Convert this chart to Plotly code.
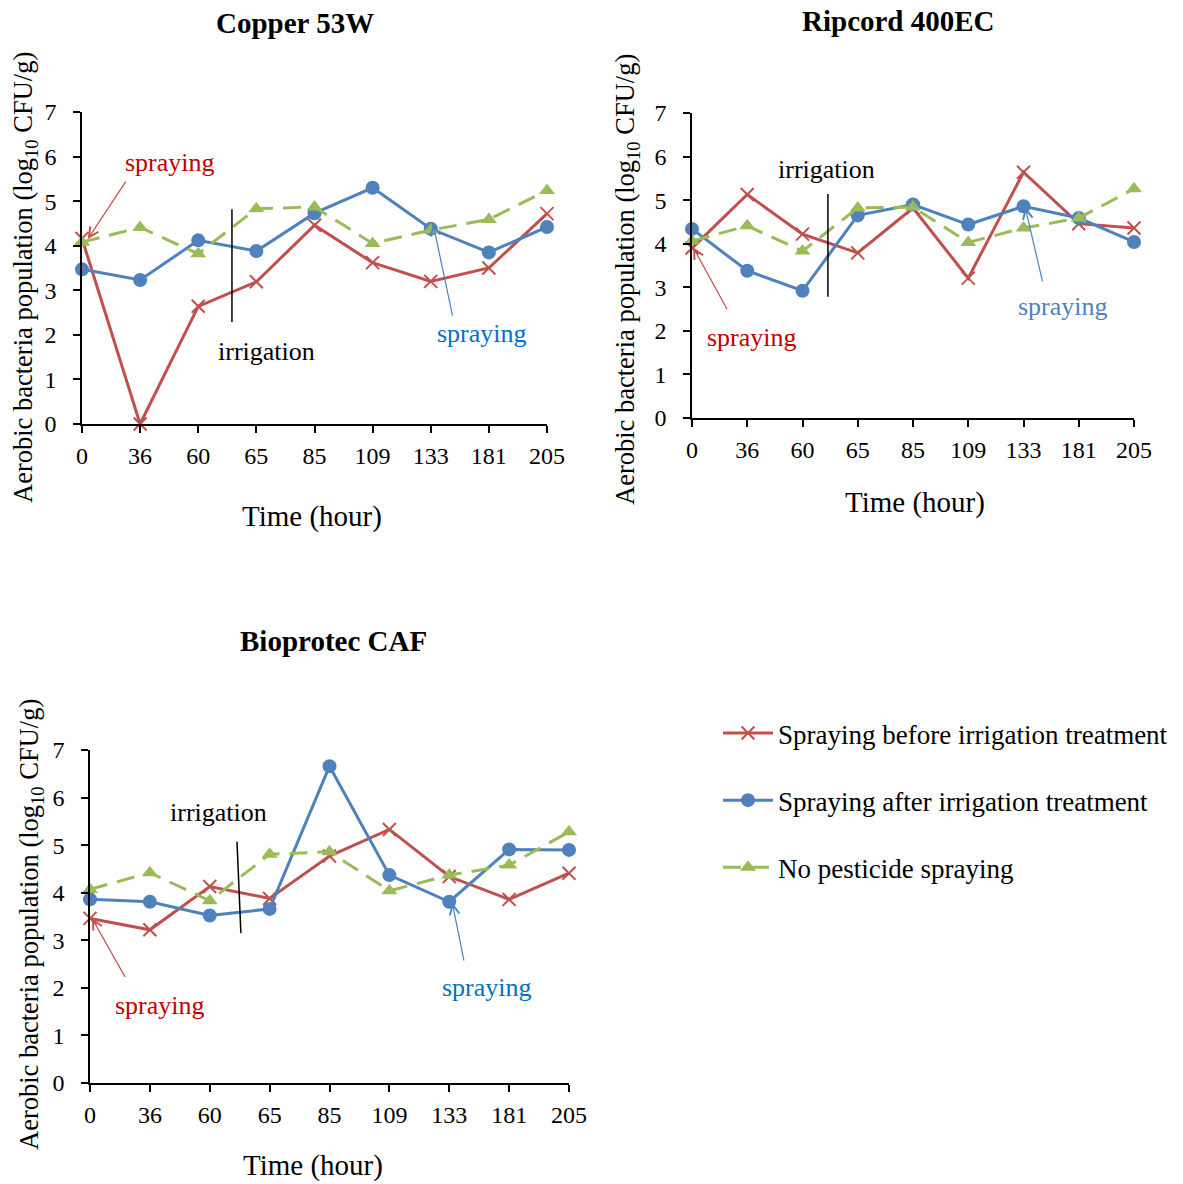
import plotly.graph_objects as go

# ---------------- data ----------------
time_labels = ["0", "36", "60", "65", "85", "109", "133", "181", "205"]

copper_before = [4.16, 0.00, 2.64, 3.19, 4.46, 3.62, 3.20, 3.50, 4.72]
copper_after = [3.47, 3.23, 4.12, 3.88, 4.73, 5.30, 4.38, 3.85, 4.42]
copper_none = [4.08, 4.41, 3.82, 4.83, 4.87, 4.05, 4.35, 4.59, 5.24]

ripcord_before = [3.90, 5.13, 4.22, 3.79, 4.82, 3.21, 5.64, 4.46, 4.36]
ripcord_after = [4.34, 3.38, 2.92, 4.65, 4.90, 4.44, 4.86, 4.59, 4.04]
ripcord_none = [4.06, 4.41, 3.83, 4.82, 4.84, 4.03, 4.36, 4.59, 5.26]

bio_before = [3.46, 3.22, 4.13, 3.88, 4.77, 5.33, 4.34, 3.86, 4.41]
bio_after = [3.86, 3.81, 3.52, 3.66, 6.66, 4.37, 3.81, 4.91, 4.90]
bio_none = [4.07, 4.42, 3.83, 4.81, 4.86, 4.04, 4.37, 4.58, 5.28]

series_names = ["Spraying before irrigation treatment",
                "Spraying after irrigation treatment",
                "No pesticide spraying"]
panel_titles = ["Copper 53W", "Ripcord 400EC", "Bioprotec CAF"]
x_title = "Time (hour)"
y_title = "Aerobic bacteria population (log<sub>10</sub> CFU/g)"

# ---------------- layout helpers ----------------
W, H = 1183, 1184
OFF = 8  # page body margin in the browser
FONT = "Liberation Serif, Times New Roman, serif"
RED, BLUE, GREEN = "#C0504D", "#4F81BD", "#9BBB59"


def px(x):
    return (x - OFF) / W


def py(y):
    return 1 - (y - OFF) / H


idx = list(range(len(time_labels)))
panels = [
    (copper_before, copper_after, copper_none),
    (ripcord_before, ripcord_after, ripcord_none),
    (bio_before, bio_after, bio_none),
]
# plot-area pixel boxes (left, right, top, bottom)
boxes = [(82, 547, 112, 424), (692, 1134, 113, 418), (90, 569, 750, 1083)]

fig = go.Figure()
for k, (before, after, none) in enumerate(panels):
    xa = "x" if k == 0 else f"x{k+1}"
    ya = "y" if k == 0 else f"y{k+1}"
    show = k == 0
    fig.add_trace(go.Scatter(
        x=idx, y=before, name=series_names[0], xaxis=xa, yaxis=ya,
        mode="lines+markers", legendgroup="a", showlegend=show, cliponaxis=False,
        line=dict(color=RED, width=3),
        marker=dict(symbol="x-thin", size=13, line=dict(color=RED, width=2), color=RED)))
    fig.add_trace(go.Scatter(
        x=idx, y=after, name=series_names[1], xaxis=xa, yaxis=ya,
        mode="lines+markers", legendgroup="b", showlegend=show, cliponaxis=False,
        line=dict(color=BLUE, width=3),
        marker=dict(symbol="circle", size=14, color=BLUE)))
    fig.add_trace(go.Scatter(
        x=idx, y=none, name=series_names[2], xaxis=xa, yaxis=ya,
        mode="lines+markers", legendgroup="c", showlegend=show, cliponaxis=False,
        line=dict(color=GREEN, width=3, dash="18px,10px"),
        marker=dict(symbol="triangle-up", size=14, color=GREEN)))

axis_common = dict(showline=True, linecolor="black", linewidth=1.5,
                   ticks="outside", ticklen=7, tickcolor="black", tickwidth=1.5,
                   showgrid=False, zeroline=False, automargin=False,
                   tickfont=dict(family=FONT, size=24, color="black"))
layout_axes = {}
for k, (l, r, t, b) in enumerate(boxes):
    sx = "xaxis" if k == 0 else f"xaxis{k+1}"
    sy = "yaxis" if k == 0 else f"yaxis{k+1}"
    ya = "y" if k == 0 else f"y{k+1}"
    xa = "x" if k == 0 else f"x{k+1}"
    layout_axes[sx] = dict(axis_common, domain=[px(l), px(r)], anchor=ya,
                           range=[0, len(time_labels) - 1],
                           tickvals=idx, ticktext=time_labels, ticklabelstandoff=2)
    layout_axes[sy] = dict(axis_common, domain=[py(b), py(t)], anchor=xa,
                           range=[0, 7], dtick=1, tick0=0, ticklabelstandoff=12)

fig.update_layout(**layout_axes)

ann = []


def free_text(text, x, y, size, angle=0):
    return dict(text=text, x=px(x), y=py(y), xref="paper", yref="paper",
                xanchor="center", yanchor="middle", textangle=angle,
                showarrow=False, font=dict(family=FONT, size=size, color="black"))


# panel titles
for (txt, x, y) in zip(panel_titles, [295, 898, 333], [23, 21, 641]):
    ann.append(free_text(f"<b>{txt}</b>", x, y, 29))
# axis titles
for (x, y) in [(312, 516), (915, 502), (313, 1165)]:
    ann.append(free_text(x_title, x, y, 29))
for (x, y) in [(25, 278), (627, 280), (31, 925)]:
    ann.append(free_text(y_title, x, y, 26.5, angle=-90))

TXT_RED, TXT_BLUE = "#C00000", "#0070C0"


def label(xr, yr, x, y, text, color):
    return dict(text=text, x=x, y=y, xref=xr, yref=yr, showarrow=False,
                xanchor="center", yanchor="middle",
                font=dict(family=FONT, size=26, color=color))


def arrow(xr, yr, x, y, ax, ay, color):
    return dict(text="", x=x, y=y, ax=ax, ay=ay, xref=xr, yref=yr, axref=xr, ayref=yr,
                showarrow=True, arrowhead=5, arrowsize=1.6, arrowwidth=1.2,
                arrowcolor=color, standoff=0, startstandoff=0)


# Copper 53W
ann += [
    label("x", "y", 1.51, 5.86, "spraying", TXT_RED),
    arrow("x", "y", 0.1, 4.15, 0.77, 5.47, RED),
    label("x", "y", 6.88, 2.02, "spraying", TXT_BLUE),
    arrow("x", "y", 6.04, 4.49, 6.38, 2.40, BLUE),
    label("x", "y", 3.18, 1.62, "irrigation", "black"),
]
# Ripcord 400EC
ann += [
    label("x2", "y2", 2.43, 5.71, "irrigation", "black"),
    label("x2", "y2", 1.09, 1.84, "spraying", TXT_RED),
    arrow("x2", "y2", 0.02, 3.92, 0.65, 2.46, RED),
    label("x2", "y2", 6.71, 2.57, "spraying", "#4F81BD"),
    arrow("x2", "y2", 6.03, 4.84, 6.35, 3.10, BLUE),
]
# Bioprotec CAF
ann += [
    label("x3", "y3", 2.14, 5.68, "irrigation", "black"),
    label("x3", "y3", 1.17, 1.62, "spraying", TXT_RED),
    arrow("x3", "y3", 0.03, 3.47, 0.60, 2.20, RED),
    label("x3", "y3", 6.63, 2.00, "spraying", TXT_BLUE),
    arrow("x3", "y3", 6.05, 3.79, 6.25, 2.54, BLUE),
]

shapes = [
    dict(type="line", xref="x", yref="y", x0=2.58, x1=2.58, y0=4.82, y1=2.29,
         line=dict(color="black", width=1.5)),
    dict(type="line", xref="x2", yref="y2", x0=2.46, x1=2.46, y0=5.14, y1=2.78,
         line=dict(color="black", width=1.5)),
    dict(type="line", xref="x3", yref="y3", x0=2.455, x1=2.52, y0=5.07, y1=3.15,
         line=dict(color="black", width=1.5)),
]

fig.update_layout(
    width=W, height=H, margin=dict(l=0, r=0, t=0, b=0, autoexpand=False),
    paper_bgcolor="white", plot_bgcolor="white",
    font=dict(family=FONT, color="black"),
    annotations=ann, shapes=shapes,
    showlegend=True,
    legend=dict(x=px(718), y=py(709), xanchor="left", yanchor="top",
                font=dict(family=FONT, size=27, color="black"),
                itemwidth=50, tracegroupgap=29, bgcolor="rgba(0,0,0,0)"),
)

fig.write_html("out.html")
